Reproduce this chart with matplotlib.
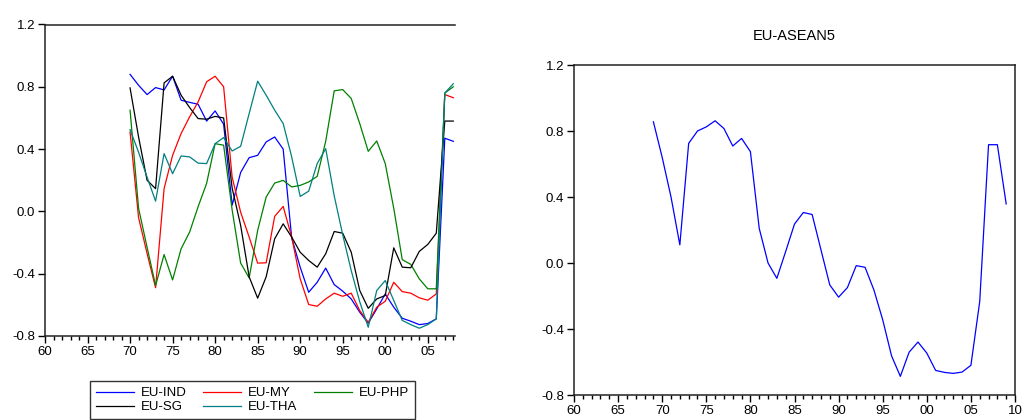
import matplotlib
matplotlib.use("Agg")
from matplotlib import pyplot as plt
from matplotlib.ticker import MultipleLocator, FuncFormatter

plt.rcParams['font.family'] = ['Liberation Sans', 'DejaVu Sans']

# Left panel: bilateral correlations, 1970-2008
years_left = list(range(1970, 2009))
eu_ind = [0.88, 0.81, 0.75, 0.795, 0.78, 0.868, 0.714, 0.70, 0.688, 0.58, 0.645, 0.56,
          0.04, 0.25, 0.345, 0.36, 0.446, 0.478, 0.40, -0.17, -0.358, -0.519, -0.455,
          -0.364, -0.47, -0.512, -0.562, -0.647, -0.718, -0.626, -0.53, -0.615, -0.686,
          -0.705, -0.727, -0.72, -0.69, 0.47, 0.45]
eu_my = [0.51, -0.04, -0.27, -0.49, 0.146, 0.36, 0.50, 0.607, 0.703, 0.832, 0.868, 0.80,
         0.22, -0.005, -0.165, -0.332, -0.33, -0.032, 0.032, -0.165, -0.433, -0.598,
         -0.609, -0.562, -0.525, -0.545, -0.525, -0.637, -0.712, -0.615, -0.577, -0.455,
         -0.515, -0.525, -0.555, -0.57, -0.53, 0.75, 0.73]
eu_php = [0.65, 0.02, -0.23, -0.476, -0.277, -0.44, -0.24, -0.133, 0.03, 0.18, 0.435, 0.425,
          0.01, -0.332, -0.427, -0.122, 0.092, 0.182, 0.199, 0.157, 0.167, 0.189, 0.225,
          0.45, 0.774, 0.782, 0.725, 0.564, 0.386, 0.452, 0.307, 0.02, -0.31, -0.34,
          -0.433, -0.497, -0.497, 0.76, 0.80]
eu_sg = [0.793, 0.478, 0.20, 0.146, 0.825, 0.868, 0.746, 0.667, 0.596, 0.592, 0.61, 0.60,
         0.15, -0.09, -0.42, -0.557, -0.42, -0.176, -0.08, -0.165, -0.262, -0.315, -0.358,
         -0.272, -0.129, -0.14, -0.262, -0.508, -0.622, -0.562, -0.54, -0.234, -0.358,
         -0.362, -0.257, -0.212, -0.14, 0.58, 0.58]
eu_tha = [0.525, 0.38, 0.22, 0.066, 0.371, 0.242, 0.356, 0.35, 0.31, 0.307, 0.435, 0.474,
          0.388, 0.418, 0.628, 0.836, 0.746, 0.65, 0.564, 0.35, 0.096, 0.13, 0.307, 0.403,
          0.10, -0.15, -0.38, -0.58, -0.744, -0.508, -0.444, -0.572, -0.70, -0.727, -0.75,
          -0.727, -0.69, 0.76, 0.82]

# Right panel: EU-ASEAN5, 1969-2009
years_right = list(range(1969, 2010))
eu_asean5 = [0.856, 0.64, 0.40, 0.11, 0.725, 0.80, 0.825, 0.862, 0.815, 0.709, 0.755, 0.675,
             0.21, 0.0, -0.093, 0.07, 0.236, 0.306, 0.294, 0.08, -0.133, -0.207, -0.149,
             -0.016, -0.026, -0.163, -0.344, -0.562, -0.687, -0.54, -0.479, -0.546, -0.651,
             -0.663, -0.669, -0.661, -0.62, -0.234, 0.717, 0.717, 0.358]

fig = plt.figure(figsize=(10.27, 4.2), dpi=100)


def style_axes(ax):
    ax.set_ylim(-0.8, 1.2)
    ax.yaxis.set_major_locator(MultipleLocator(0.4))
    ax.yaxis.set_major_formatter(FuncFormatter(lambda v, p: "%.1f" % v))
    ax.xaxis.set_major_locator(MultipleLocator(5))
    ax.xaxis.set_minor_locator(MultipleLocator(1))
    ax.xaxis.set_major_formatter(FuncFormatter(lambda v, p: "%02d" % (int(round(v)) % 100)))
    ax.tick_params(axis="both", which="major", direction="out", length=5, width=1,
                   labelsize=9.5, colors="black", pad=2)
    ax.tick_params(axis="x", which="minor", direction="out", length=3, width=1)
    for s in ax.spines.values():
        s.set_linewidth(1.1)
        s.set_color("#222222")


# Left panel (cropped on the right)
ax1 = fig.add_axes([45 / 1027, 1 - 336 / 420, 410 / 1027, 311.5 / 420])
l1, = ax1.plot(years_left, eu_ind, c="#0000ff", lw=0.9, label="EU-IND")
l2, = ax1.plot(years_left, eu_my, c="#ff0000", lw=0.9, label="EU-MY")
l3, = ax1.plot(years_left, eu_php, c="#008000", lw=0.9, label="EU-PHP")
l4, = ax1.plot(years_left, eu_sg, c="black", lw=0.9, label="EU-SG")
l5, = ax1.plot(years_left, eu_tha, c="#008080", lw=0.9, label="EU-THA")
ax1.set_xlim(1960, 2008.2)
style_axes(ax1)
ax1.spines["right"].set_visible(False)

leg = fig.legend([l1, l4, l2, l5, l3], ["EU-IND", "EU-SG", "EU-MY", "EU-THA", "EU-PHP"],
                 ncol=3, loc="upper left", bbox_to_anchor=(90 / 1027, 1 - 381 / 420),
                 fontsize=9.5, fancybox=False, handlelength=2.9, handletextpad=0.5,
                 columnspacing=1.25, labelspacing=0.15, borderpad=0.45, borderaxespad=0)
leg.get_frame().set_edgecolor("black")
leg.get_frame().set_linewidth(1.0)

# Right panel
ax2 = fig.add_axes([574 / 1027, 1 - 395 / 420, 441 / 1027, 330 / 420])
ax2.plot(years_right, eu_asean5, c="#0000ff", lw=0.9)
ax2.set_xlim(1960, 2010)
style_axes(ax2)
ax2.set_title("EU-ASEAN5", fontsize=10.5, pad=18)

fig.savefig("out.png", dpi=100)
